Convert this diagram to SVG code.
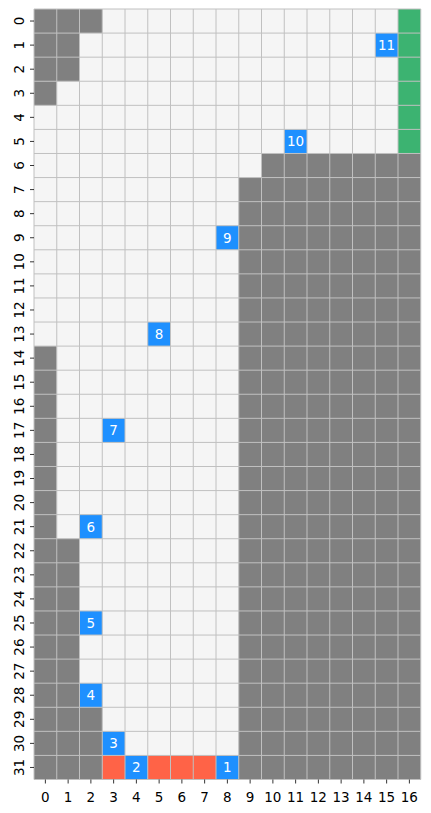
<svg xmlns="http://www.w3.org/2000/svg" width="431" height="813" viewBox="0 0 431 813">
<style>
.g{fill:#808080}.e{fill:#f5f5f5}.gr{fill:#3cb371}.b{fill:#1e90ff}.r{fill:#ff6347}
.grid{stroke:#c0c0c0;stroke-width:1;fill:none}
.lbl{font-family:"DejaVu Sans",sans-serif;font-size:13.5px;fill:#ffffff;text-anchor:middle}
.tk{font-family:"DejaVu Sans",sans-serif;font-size:13.5px;fill:#000000;text-anchor:middle}
.tm{stroke:#000000;stroke-width:0.8}
</style>
<rect width="431" height="813" fill="#ffffff"/>
<g id="cells" transform="translate(34,9) scale(22.75,24.078125)">
<rect class="e" x="0" y="0" width="17" height="32"/>
<g id="walls">
<rect class="g" x="0" y="0" width="3" height="1"/>
<rect class="g" x="0" y="1" width="2" height="2"/>
<rect class="g" x="0" y="3" width="1" height="1"/>
<rect class="g" x="0" y="14" width="1" height="8"/>
<rect class="g" x="0" y="22" width="2" height="7"/>
<rect class="g" x="0" y="29" width="3" height="3"/>
<rect class="g" x="10" y="6" width="7" height="1"/>
<rect class="g" x="9" y="7" width="8" height="25"/>
</g>
<rect id="goal" class="gr" x="16" y="0" width="1" height="6"/>
<g id="path-red">
<rect class="r" x="3" y="31" width="1" height="1"/>
<rect class="r" x="5" y="31" width="3" height="1"/>
</g>
<g id="steps">
<rect class="b" x="15" y="1" width="1" height="1"/>
<rect class="b" x="11" y="5" width="1" height="1"/>
<rect class="b" x="8" y="9" width="1" height="1"/>
<rect class="b" x="5" y="13" width="1" height="1"/>
<rect class="b" x="3" y="17" width="1" height="1"/>
<rect class="b" x="2" y="21" width="1" height="1"/>
<rect class="b" x="2" y="25" width="1" height="1"/>
<rect class="b" x="2" y="28" width="1" height="1"/>
<rect class="b" x="3" y="30" width="1" height="1"/>
<rect class="b" x="4" y="31" width="1" height="1"/>
<rect class="b" x="8" y="31" width="1" height="1"/>
</g>
<path class="grid" vector-effect="non-scaling-stroke" d="M0 0V32M1 0V32M2 0V32M3 0V32M4 0V32M5 0V32M6 0V32M7 0V32M8 0V32M9 0V32M10 0V32M11 0V32M12 0V32M13 0V32M14 0V32M15 0V32M16 0V32M17 0V32M0 0H17M0 1H17M0 2H17M0 3H17M0 4H17M0 5H17M0 6H17M0 7H17M0 8H17M0 9H17M0 10H17M0 11H17M0 12H17M0 13H17M0 14H17M0 15H17M0 16H17M0 17H17M0 18H17M0 19H17M0 20H17M0 21H17M0 22H17M0 23H17M0 24H17M0 25H17M0 26H17M0 27H17M0 28H17M0 29H17M0 30H17M0 31H17M0 32H17"/>
</g>
<g id="labels">
<text class="lbl" x="386.63" y="50">11</text>
<text class="lbl" x="295.63" y="146.3">10</text>
<text class="lbl" x="227.38" y="242.6">9</text>
<text class="lbl" x="159.13" y="339">8</text>
<text class="lbl" x="113.63" y="435.3">7</text>
<text class="lbl" x="90.88" y="531.6">6</text>
<text class="lbl" x="90.88" y="627.9">5</text>
<text class="lbl" x="90.88" y="700.1">4</text>
<text class="lbl" x="113.63" y="748.3">3</text>
<text class="lbl" x="136.38" y="772.4">2</text>
<text class="lbl" x="227.38" y="772.4">1</text>
</g>
<g id="x-axis">
<path class="tm" d="M45.38 779.5v4M68.13 779.5v4M90.88 779.5v4M113.63 779.5v4M136.38 779.5v4M159.13 779.5v4M181.88 779.5v4M204.63 779.5v4M227.38 779.5v4M250.13 779.5v4M272.88 779.5v4M295.63 779.5v4M318.38 779.5v4M341.13 779.5v4M363.88 779.5v4M386.63 779.5v4M409.38 779.5v4"/>
<text class="tk" x="45.38" y="802">0</text>
<text class="tk" x="68.13" y="802">1</text>
<text class="tk" x="90.88" y="802">2</text>
<text class="tk" x="113.63" y="802">3</text>
<text class="tk" x="136.38" y="802">4</text>
<text class="tk" x="159.13" y="802">5</text>
<text class="tk" x="181.88" y="802">6</text>
<text class="tk" x="204.63" y="802">7</text>
<text class="tk" x="227.38" y="802">8</text>
<text class="tk" x="250.13" y="802">9</text>
<text class="tk" x="272.88" y="802">10</text>
<text class="tk" x="295.63" y="802">11</text>
<text class="tk" x="318.38" y="802">12</text>
<text class="tk" x="341.13" y="802">13</text>
<text class="tk" x="363.88" y="802">14</text>
<text class="tk" x="386.63" y="802">15</text>
<text class="tk" x="409.38" y="802">16</text>
</g>
<g id="y-axis">
<path class="tm" d="M30 21.04h4M30 45.12h4M30 69.2h4M30 93.27h4M30 117.35h4M30 141.43h4M30 165.51h4M30 189.59h4M30 213.66h4M30 237.74h4M30 261.82h4M30 285.9h4M30 309.98h4M30 334.05h4M30 358.13h4M30 382.21h4M30 406.29h4M30 430.37h4M30 454.45h4M30 478.52h4M30 502.6h4M30 526.68h4M30 550.76h4M30 574.84h4M30 598.91h4M30 622.99h4M30 647.07h4M30 671.15h4M30 695.23h4M30 719.3h4M30 743.38h4M30 767.46h4"/>
<text class="tk" transform="translate(24,21.04) rotate(-90)">0</text>
<text class="tk" transform="translate(24,45.12) rotate(-90)">1</text>
<text class="tk" transform="translate(24,69.2) rotate(-90)">2</text>
<text class="tk" transform="translate(24,93.27) rotate(-90)">3</text>
<text class="tk" transform="translate(24,117.35) rotate(-90)">4</text>
<text class="tk" transform="translate(24,141.43) rotate(-90)">5</text>
<text class="tk" transform="translate(24,165.51) rotate(-90)">6</text>
<text class="tk" transform="translate(24,189.59) rotate(-90)">7</text>
<text class="tk" transform="translate(24,213.66) rotate(-90)">8</text>
<text class="tk" transform="translate(24,237.74) rotate(-90)">9</text>
<text class="tk" transform="translate(24,261.82) rotate(-90)">10</text>
<text class="tk" transform="translate(24,285.9) rotate(-90)">11</text>
<text class="tk" transform="translate(24,309.98) rotate(-90)">12</text>
<text class="tk" transform="translate(24,334.05) rotate(-90)">13</text>
<text class="tk" transform="translate(24,358.13) rotate(-90)">14</text>
<text class="tk" transform="translate(24,382.21) rotate(-90)">15</text>
<text class="tk" transform="translate(24,406.29) rotate(-90)">16</text>
<text class="tk" transform="translate(24,430.37) rotate(-90)">17</text>
<text class="tk" transform="translate(24,454.45) rotate(-90)">18</text>
<text class="tk" transform="translate(24,478.52) rotate(-90)">19</text>
<text class="tk" transform="translate(24,502.6) rotate(-90)">20</text>
<text class="tk" transform="translate(24,526.68) rotate(-90)">21</text>
<text class="tk" transform="translate(24,550.76) rotate(-90)">22</text>
<text class="tk" transform="translate(24,574.84) rotate(-90)">23</text>
<text class="tk" transform="translate(24,598.91) rotate(-90)">24</text>
<text class="tk" transform="translate(24,622.99) rotate(-90)">25</text>
<text class="tk" transform="translate(24,647.07) rotate(-90)">26</text>
<text class="tk" transform="translate(24,671.15) rotate(-90)">27</text>
<text class="tk" transform="translate(24,695.23) rotate(-90)">28</text>
<text class="tk" transform="translate(24,719.3) rotate(-90)">29</text>
<text class="tk" transform="translate(24,743.38) rotate(-90)">30</text>
<text class="tk" transform="translate(24,767.46) rotate(-90)">31</text>
</g>
</svg>
